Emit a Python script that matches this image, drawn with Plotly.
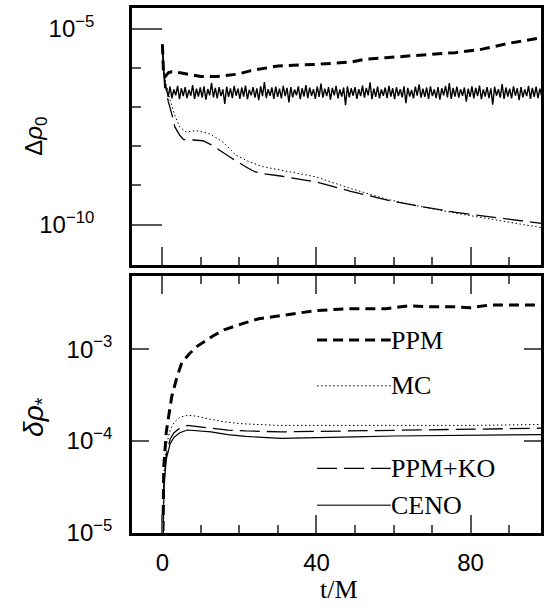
import numpy as np
import plotly.graph_objects as go

# ---------------- data (log10 values) ----------------
# Top panel: Delta rho_0
ppm_top_t = [0, 0.3, 0.7, 1.6, 2.5, 5.0, 10, 14, 19.5, 23, 30, 40, 49, 52.5, 58, 64, 70, 76, 83, 90, 94, 98.5]
ppm_top_log = [-5.4, -6.2, -6.22, -6.12, -6.10, -6.13, -6.22, -6.22, -6.16, -6.07, -5.95, -5.91, -5.85,
               -5.78, -5.74, -5.69, -5.65, -5.61, -5.52, -5.37, -5.31, -5.23]

ko_top_t = [0, 0.3, 0.8, 1.5, 2.5, 3.2, 4.5, 5.5, 8, 10.5, 13, 17.4, 21.7, 24, 26.2, 30.7, 39.8, 48.9,
            58.1, 67.1, 76.2, 85.3, 98.5]
ko_top_log = [-5.4, -6.1, -6.45, -6.85, -7.2, -7.5, -7.72, -7.83, -7.84, -7.86, -7.98, -8.27, -8.53,
              -8.65, -8.70, -8.76, -8.91, -9.15, -9.37, -9.54, -9.69, -9.80, -9.97]

mc_top_t = [0, 0.3, 0.8, 1.9, 3.2, 4.5, 6.2, 8.8, 12.2, 15.7, 19.1, 22.6, 26, 30.7, 39.8, 48.9, 58.1,
            67.1, 76.2, 85.3, 98.5]
mc_top_log = [-5.4, -6.0, -6.35, -6.79, -7.21, -7.51, -7.64, -7.60, -7.68, -7.89, -8.23, -8.40, -8.52,
              -8.61, -8.78, -9.08, -9.35, -9.54, -9.71, -9.86, -10.08]

ceno_top_start_t = [0, 0.3, 0.6]
ceno_top_start_log = [-5.4, -6.2, -6.5]
ceno_top_noisy_log = [
    -6.50, -6.74, -6.48, -6.78, -6.55, -6.70, -6.46, -6.80, -6.52, -6.72, -6.49, -6.77, -6.56, -6.71, -6.44, -6.79, -6.53, -6.73, -6.50, -6.76,
    -6.47, -6.81, -6.54, -6.70, -6.38, -6.75, -6.51, -6.78, -6.49, -6.72, -6.55, -6.92, -6.48, -6.74, -6.52, -6.77, -6.46, -6.71, -6.53, -6.79,
    -6.50, -6.73, -6.45, -6.80, -6.56, -6.70, -6.49, -6.76, -6.52, -6.82, -6.47, -6.72, -6.36, -6.77, -6.54, -6.71, -6.50, -6.79, -6.48, -6.74,
    -6.53, -6.78, -6.46, -6.72, -6.51, -6.88, -6.49, -6.75, -6.55, -6.70, -6.47, -6.80, -6.52, -6.73, -6.44, -6.77, -6.50, -6.71, -6.54, -6.79,
    -6.48, -6.74, -6.40, -6.76, -6.53, -6.72, -6.49, -6.81, -6.51, -6.70, -6.46, -6.78, -6.55, -6.73, -6.50, -6.95, -6.47, -6.75, -6.52, -6.71,
    -6.49, -6.79, -6.54, -6.72, -6.45, -6.76, -6.51, -6.70, -6.37, -6.80, -6.53, -6.74, -6.48, -6.78, -6.55, -6.71, -6.50, -6.77, -6.46, -6.73,
    -6.52, -6.80, -6.49, -6.72, -6.54, -6.75, -6.47, -6.90, -6.51, -6.73, -6.56, -6.78, -6.48, -6.71, -6.42, -6.76, -6.53, -6.74, -6.50, -6.79,
    -6.47, -6.72, -6.55, -6.77, -6.49, -6.81, -6.52, -6.70, -6.46, -6.75, -6.39, -6.79, -6.51, -6.73, -6.48, -6.76, -6.54, -6.71, -6.50, -6.86,
    -6.53, -6.74, -6.47, -6.78, -6.51, -6.72, -6.45, -6.80, -6.55, -6.73, -6.49, -6.77, -6.52, -6.94, -6.48, -6.71, -6.54, -6.76, -6.41, -6.79,
    -6.50, -6.73, -6.53, -6.78, -6.47, -6.71, -6.52, -6.82, -6.49, -6.75, -6.55, -6.72, -6.46, -6.79, -6.51, -6.74, -6.48, -6.77, -6.53, -6.73,
]
ceno_top_noisy_t = np.linspace(1.0, 98.5, len(ceno_top_noisy_log))

# Bottom panel: delta rho_*
ppm_bot_t = [0, 0.1, 0.35, 1.0, 2.4, 3.8, 5, 7, 9, 13, 16, 21, 25, 30, 35, 40, 49, 58, 64, 70, 76, 80, 85, 98.5]
ppm_bot_log = [-5.5, -4.8, -4.28, -3.9, -3.52, -3.3, -3.15, -3.05, -2.97, -2.86, -2.79, -2.72, -2.67,
               -2.64, -2.61, -2.58, -2.56, -2.56, -2.53, -2.54, -2.54, -2.55, -2.52, -2.52]

mc_bot_t = [0, 0.15, 0.4, 1.0, 2.0, 3.0, 4.5, 6.6, 9, 12, 16, 20, 25, 30, 40, 60, 80, 98.5]
mc_bot_log = [-5.5, -4.7, -4.35, -4.05, -3.88, -3.80, -3.74, -3.72, -3.73, -3.76, -3.79, -3.81, -3.82,
              -3.83, -3.83, -3.83, -3.83, -3.82]

ko_bot_t = [0, 0.15, 0.4, 1.0, 2.0, 3.0, 4.5, 6.5, 9, 12.6, 17, 21.6, 30.7, 40, 50, 60, 70, 80, 98.5]
ko_bot_log = [-5.5, -4.8, -4.45, -4.15, -3.98, -3.91, -3.86, -3.83, -3.84, -3.86, -3.88, -3.89, -3.90,
              -3.895, -3.89, -3.88, -3.875, -3.87, -3.86]

ceno_bot_t = [0, 0.15, 0.4, 1.0, 2.0, 3.0, 4.5, 6.5, 9, 12.6, 17, 21.6, 30.7, 40, 50, 60, 70, 80, 98.5]
ceno_bot_log = [-5.5, -4.85, -4.5, -4.2, -4.03, -3.96, -3.91, -3.88, -3.89, -3.90, -3.93, -3.95, -3.97,
                -3.965, -3.955, -3.945, -3.94, -3.935, -3.93]

legend_names = ["PPM", "MC", "PPM+KO", "CENO"]
top_ticks = [1e-10, 1e-5]
top_ticktext = ["10<sup>\u221210</sup>", "10<sup>\u22125</sup>"]
top_minor_ticks = [1e-9, 1e-8, 1e-7, 1e-6]
bot_ticks = [1e-5, 1e-4, 1e-3]
bot_ticktext = ["10<sup>\u22125</sup>", "10<sup>\u22124</sup>", "10<sup>\u22123</sup>"]

# ---------------- styles ----------------
sty = {
    "PPM": dict(color="black", width=3, dash="10px,6px"),
    "MC": dict(color="black", width=1, dash="1.5px,2.5px"),
    "PPM+KO": dict(color="black", width=1.3, dash="20px,7px"),
    "CENO": dict(color="black", width=1.2, dash="solid"),
}

def p(v):
    return 10 ** np.asarray(v, dtype=float)

fig = go.Figure()
# top
fig.add_trace(go.Scatter(x=ppm_top_t, y=p(ppm_top_log), mode="lines", line=sty["PPM"], xaxis="x", yaxis="y"))
fig.add_trace(go.Scatter(x=mc_top_t, y=p(mc_top_log), mode="lines", line=sty["MC"], xaxis="x", yaxis="y"))
fig.add_trace(go.Scatter(x=ko_top_t, y=p(ko_top_log), mode="lines", line=sty["PPM+KO"], xaxis="x", yaxis="y"))
fig.add_trace(go.Scatter(x=list(ceno_top_start_t) + list(ceno_top_noisy_t),
                         y=p(list(ceno_top_start_log) + list(ceno_top_noisy_log)),
                         mode="lines", line=dict(color="black", width=1.4), xaxis="x", yaxis="y"))
# bottom
fig.add_trace(go.Scatter(x=ppm_bot_t, y=p(ppm_bot_log), mode="lines", line=sty["PPM"], xaxis="x2", yaxis="y2"))
fig.add_trace(go.Scatter(x=mc_bot_t, y=p(mc_bot_log), mode="lines", line=sty["MC"], xaxis="x2", yaxis="y2"))
fig.add_trace(go.Scatter(x=ko_bot_t, y=p(ko_bot_log), mode="lines", line=sty["PPM+KO"], xaxis="x2", yaxis="y2"))
fig.add_trace(go.Scatter(x=ceno_bot_t, y=p(ceno_bot_log), mode="lines", line=sty["CENO"], xaxis="x2", yaxis="y2"))

tickcol = "#555555"
sans = "Liberation Sans"
serif = "Liberation Serif"
xrange = [-7.9, 98.3]

common_x = dict(range=xrange, ticks="inside", ticklen=18, tickwidth=2, tickcolor=tickcol,
                tick0=0, dtick=40, showline=True, linewidth=2.5, linecolor="black",
                showgrid=False, zeroline=False,
                minor=dict(ticks="inside", ticklen=8, tickwidth=2, tickcolor=tickcol, tick0=0, dtick=10))

fig.update_layout(
    width=549, height=610,
    margin=dict(l=132, r=6, t=5, b=77),
    paper_bgcolor="white", plot_bgcolor="white",
    showlegend=False,
    xaxis=dict(**common_x, anchor="y", domain=[0, 1], showticklabels=False, mirror=True),
    yaxis=dict(domain=[0.5114, 1], anchor="x", type="log", range=[-11.02, -4.47],
               tickmode="array", tickvals=top_ticks, ticktext=top_ticktext,
               ticks="inside", ticklen=30, tickwidth=2, tickcolor=tickcol,
               showline=True, linewidth=2.5, linecolor="black", mirror=True,
               showgrid=False, zeroline=False, ticklabelstandoff=30,
               tickfont=dict(family=sans, size=24, color="black"),
               minor=dict(tickmode="array", tickvals=top_minor_ticks, ticks="inside",
                          ticklen=9, tickwidth=2, tickcolor=tickcol)),
    xaxis2=dict(**common_x, anchor="y2", domain=[0, 1], showticklabels=True, mirror="ticks",
                tickfont=dict(family=sans, size=24, color="black"), ticklabelstandoff=6),
    yaxis2=dict(domain=[0, 0.4886], anchor="x2", type="log", range=[-5, -2.21],
                tickmode="array", tickvals=bot_ticks, ticktext=bot_ticktext,
                ticks="inside", ticklen=17, tickwidth=2, tickcolor=tickcol,
                showline=True, linewidth=2.5, linecolor="black", mirror="ticks",
                showgrid=False, zeroline=False, ticklabelstandoff=12,
                tickfont=dict(family=sans, size=24, color="black")),
)

# axis titles
fig.add_annotation(text="\u0394<i>\u03c1</i><sub>0</sub>", xref="paper", yref="paper",
                   x=-0.236, y=0.7557, textangle=-90, showarrow=False,
                   xanchor="center", yanchor="middle", font=dict(family=sans, size=24, color="black"))
fig.add_annotation(text="<i>\u03b4\u03c1</i><sub>*</sub>", xref="paper", yref="paper",
                   x=-0.236, y=0.222, textangle=-90, showarrow=False,
                   xanchor="center", yanchor="middle", font=dict(family=sans, size=28, color="black"))
fig.add_annotation(text="t/M", xref="paper", yref="paper", x=0.506, y=-0.108, showarrow=False,
                   xanchor="center", yanchor="middle", font=dict(family=serif, size=26, color="black"))

# legend (manual, inside bottom panel)
leg_y_px = [339, 385, 468, 505]
x0p, x1p = (318 - 132) / 411, (392 - 132) / 411
for name, ypx in zip(legend_names, leg_y_px):
    yp = (533 - ypx) / 528
    s = sty[name]
    ldash = s["dash"]
    lcol = "#444444" if name == "CENO" else "black"
    fig.add_shape(type="line", xref="paper", yref="paper", x0=x0p, x1=x1p, y0=yp, y1=yp,
                  line=dict(color=lcol, width=s["width"] + (0.3 if name == "CENO" else 0), dash=ldash))
    fig.add_annotation(text=name, xref="paper", yref="paper", x=x1p, y=yp, showarrow=False,
                       xanchor="left", yanchor="middle", xshift=-2,
                       font=dict(family=serif, size=26, color="black"))

fig.write_html("out.html")
